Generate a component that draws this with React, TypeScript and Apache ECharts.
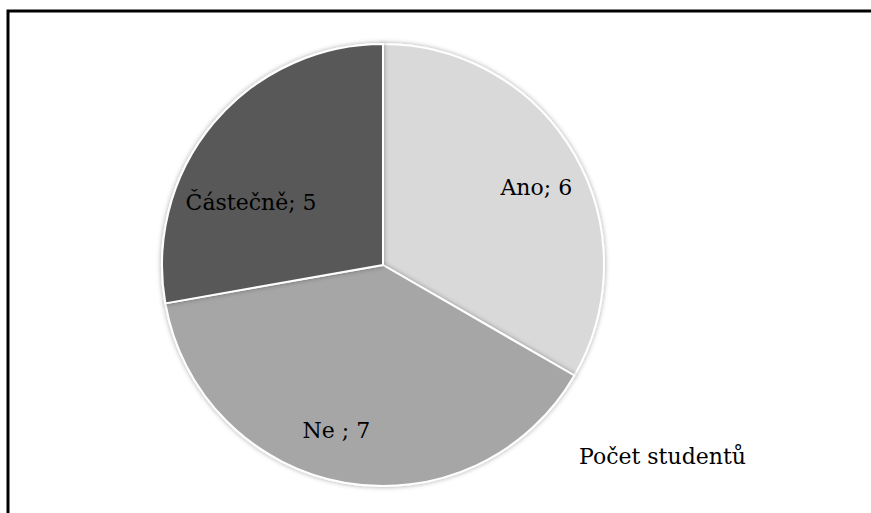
import React, { useEffect, useRef } from "react";
import * as echarts from "echarts";

const categories = ["Ano", "Ne ", "Částečně"];
const values = [6, 7, 5];
const sliceColors = ["#d9d9d9", "#a6a6a6", "#595959"];
const seriesName = "Počet studentů";
// label nudges from the default inside position
const labelShift = [
  [55, -21],
  [-27, 54],
  [-45, 10],
];
const serif = "DejaVu Serif";

export default function App() {
  const ref = useRef<HTMLDivElement>(null);
  useEffect(() => {
    if (!ref.current) return;
    const chart = echarts.init(ref.current, null, { renderer: "svg" });
    chart.setOption({
      animation: false,
      backgroundColor: "#ffffff",
      title: {
        text: seriesName,
        left: 574,
        top: 440,
        textStyle: {
          fontFamily: serif,
          fontSize: 22,
          fontWeight: "normal",
          color: "#000000",
        },
      },
      graphic: [
        {
          type: "polyline",
          shape: { points: [[8, 513], [8, 11], [871, 11]] },
          style: { stroke: "#000000", lineWidth: 3, fill: "none" },
          z: 100,
        },
      ],
      series: [
        {
          type: "pie",
          name: seriesName,
          center: [383, 265],
          radius: [0, 221],
          startAngle: 90,
          clockwise: true,
          data: categories.map((c, i) => ({
            name: c,
            value: values[i],
            itemStyle: { color: sliceColors[i] },
          })),
          itemStyle: {
            borderColor: "#ffffff",
            borderWidth: 2,
            shadowBlur: 5,
            shadowColor: "rgba(0,0,0,0.35)",
          },
          label: {
            show: true,
            position: "inside",
            formatter: (p: any) => `${p.name}; ${p.value}`,
            fontFamily: serif,
            fontSize: 22,
            color: "#000000",
          },
          labelLine: { show: false },
          emphasis: { disabled: true },
          labelLayout: (p: any) => ({
            dx: labelShift[p.dataIndex][0],
            dy: labelShift[p.dataIndex][1],
          }),
        },
      ],
    });
    return () => chart.dispose();
  }, []);
  return (
    <div
      ref={ref}
      style={{ position: "absolute", left: 0, top: 0, width: 871, height: 513 }}
    />
  );
}
